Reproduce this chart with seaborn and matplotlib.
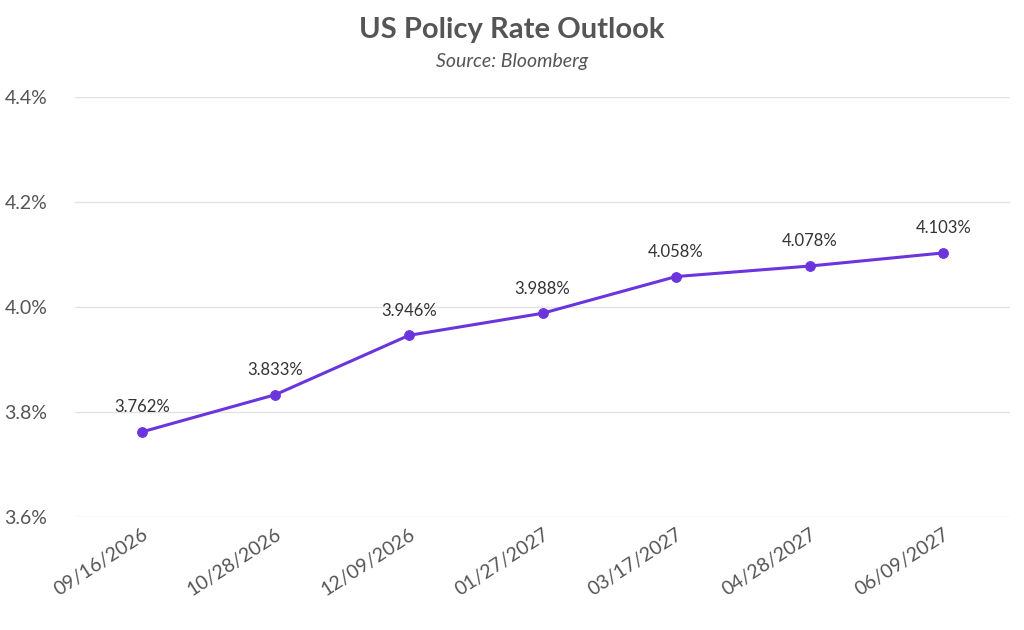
import matplotlib
matplotlib.use("Agg")
import matplotlib.pyplot as plt
import seaborn as sns
import pandas as pd

dates = ["09/16/2026", "10/28/2026", "12/09/2026", "01/27/2027", "03/17/2027", "04/28/2027", "06/09/2027"]
rates = [3.762, 3.833, 3.946, 3.988, 4.058, 4.078, 4.103]
yticks = [3.6, 3.8, 4.0, 4.2, 4.4]

sns.set_style("white")
plt.rcParams["font.family"] = ["Lato", "DejaVu Sans"]

df = pd.DataFrame({"date": dates, "rate": rates, "pos": range(len(dates))})

fig = plt.figure(figsize=(10.24, 6.30), dpi=100)
ax = fig.add_axes([75/1024, 1-517/630, 935/1024, 420/630])
color = "#6B35DD"
sns.lineplot(data=df, x="pos", y="rate", ax=ax, color=color, linewidth=2.2,
             marker="o", markersize=7, markeredgecolor=color)
for p, r in zip(df["pos"], df["rate"]):
    ax.annotate(f"{r:.3f}%", (p, r), xytext=(0, 12), textcoords="offset points",
                ha="center", va="bottom", fontsize=12, color="#333333")

ax.set_xlim(-0.5, 6.5)
ax.set_ylim(3.6, 4.4)
ax.set_yticks(yticks)
ax.set_yticklabels([f"{t:.1f}%" for t in yticks], fontsize=14, color="#555555")
ax.set_xticks(df["pos"])
ax.set_xticklabels(dates, rotation=33, ha="right", rotation_mode="anchor",
                   fontsize=14, color="#555555")
ax.tick_params(axis="y", pad=20, length=0)
ax.tick_params(axis="x", length=0, pad=6)
ax.grid(axis="y", color="#e3e3e3", linewidth=1)
for s in ax.spines.values():
    s.set_visible(False)
ax.set_xlabel("")
ax.set_ylabel("")

fig.text(0.5, 1-30/630, "US Policy Rate Outlook", ha="center", va="center",
         fontsize=21, fontweight="bold", color="#555555")
fig.text(0.5, 1-62/630, "Source: Bloomberg", ha="center", va="center",
         fontsize=14, style="italic", color="#555555")

fig.savefig("out.png", dpi=100)
